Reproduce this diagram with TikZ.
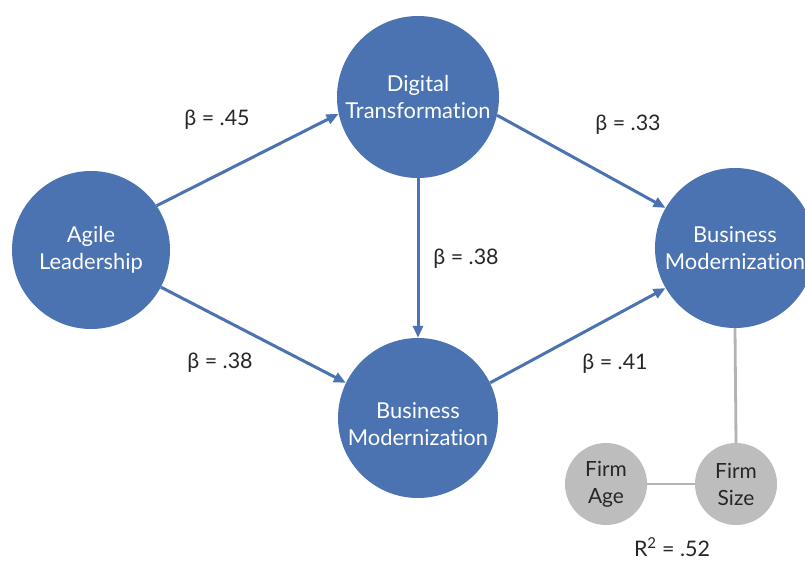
\documentclass[tikz,border=0pt]{standalone}
\usepackage{fontspec}
\setmainfont{Lato}[Ligatures={NoCommon}]
\usetikzlibrary{arrows.meta}
\definecolor{nodeblue}{HTML}{4B73B1}
\definecolor{ctrlgray}{HTML}{BDBDBD}
\definecolor{linegray}{HTML}{B3B3B3}
\begin{document}
\begin{tikzpicture}[x=1bp, y=-1bp, >={Triangle[length=12bp,width=10bp]},
    construct/.style={circle, fill=nodeblue, text=white, minimum size=160bp, inner sep=0pt, align=center, font=\fontsize{22}{27}\selectfont},
    constructtext/.style={text=white, align=center, inner sep=0pt, font=\fontsize{22}{27}\selectfont},
    control/.style={circle, fill=ctrlgray, text=black!85, minimum size=82bp, inner sep=0pt, align=center, font=\fontsize{21}{27}\selectfont},
    path/.style={->, draw=nodeblue, fill=nodeblue, line width=3bp},
    coef/.style={text=black!85, font=\fontsize{21.5}{26}\selectfont}]
\useasboundingbox (0,0) rectangle (805,562);
\node[construct, minimum size=158bp] (agile) at (91,250) {Agile\\Leadership};
\node[construct, minimum size=162bp] (digital) at (418,97) {Digital\\Transformation};
\node[construct] (modern) at (418,418) {};
\node[constructtext] (moderntext) at ([yshift=-6bp]modern.center) {Business\\Modernization};
\node[construct] (outcome) at (735,248) {Business\\Modernization};
\node[control] (age) at (606,484) {Firm\\Age};
\node[control] (size) at (736,484) {Firm\\Size};
% paths
\draw[path] (agile.34) -- (digital.192);
\draw[path] (agile.-28) -- (modern.154);
\draw[path] (digital.south) -- (modern.north);
\draw[path] (digital.-13) -- (outcome.150);
\draw[path] (modern.26) -- (outcome.210);
% controls
\draw[linegray, line width=2.8bp] (outcome.south) -- (size.north);
\draw[linegray, line width=2.8bp] (age.east) -- (size.west);
\node[coef] (b1) at (217,120) {β = .45};
\node[coef] (b2) at (220,363) {β = .38};
\node[coef] (b3) at (466,259) {β = .38};
\node[coef] (b4) at (628,125) {β = .33};
\node[coef] (b5) at (615,364) {β = .41};
\node[coef] (r2) at (672,547) {R\textsuperscript{2} = .52};
\end{tikzpicture}
\end{document}
